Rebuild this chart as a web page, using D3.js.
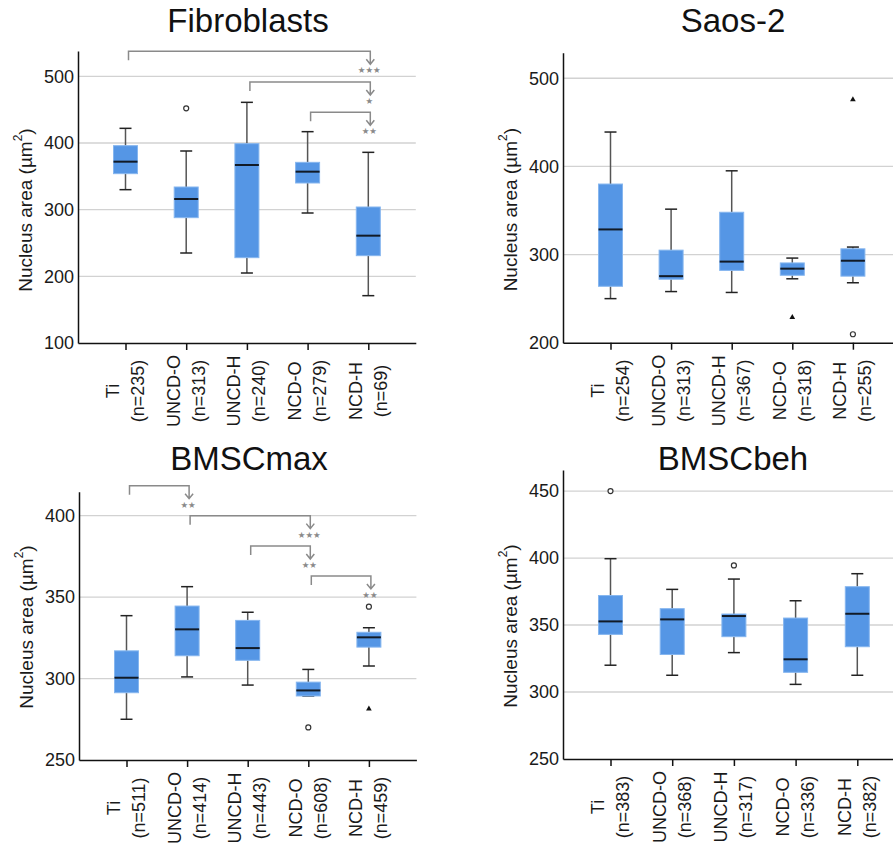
<!DOCTYPE html>
<html>
<head>
<meta charset="utf-8">
<script src="https://cdn.jsdelivr.net/npm/d3@7"></script>
<style>
  body { margin: 0; background: #fff; }
  text { font-family: "Liberation Sans", Arial, sans-serif; }
</style>
</head>
<body>
<div id="chart"></div>
<script>
var groups = ["Ti", "UNCD-O", "UNCD-H", "NCD-O", "NCD-H"];

// sample sizes per group
var fibN = [235, 313, 240, 279, 69];
var saosN = [254, 313, 367, 318, 255];
var maxN = [511, 414, 443, 608, 459];
var behN = [383, 368, 317, 336, 382];

// [whisker low, q1, median, q3, whisker high]
var fibBoxes = [[330, 354, 372, 396, 422], [235, 288, 316, 334, 388], [205, 228, 367, 399, 461], [295, 340, 357, 371, 417], [171, 231, 261, 304, 386]];
var saosBoxes = [[250, 264, 328.5, 380, 439], [258, 272, 275.5, 305, 351.5], [257, 282, 292, 348, 395], [272.5, 276.5, 284, 290.5, 296], [268, 275.5, 293, 306.5, 308.5]];
var maxBoxes = [[275, 291.3, 300.5, 317, 338.6], [301, 314, 330.2, 344.5, 356.4], [296, 311.2, 318.7, 335.7, 340.7], [289.3, 289.3, 292.7, 297.8, 305.6], [307.7, 319.3, 325.3, 328.4, 331.2]];
var behBoxes = [[320, 343, 352.7, 372, 399.5], [312.5, 328, 354.2, 362.2, 376.6], [329.4, 341.3, 356.7, 358.2, 384.3], [305.7, 314.7, 324.4, 355.2, 368.1], [312.5, 333.8, 358.4, 378.6, 388.3]];

// outliers: group, value, "o" = outlier circle, "x" = extreme triangle
var fibOut = [["UNCD-O", 452, "o"]];
var saosOut = [["NCD-O", 228.7, "x"], ["NCD-H", 475.8, "x"], ["NCD-H", 209.6, "o"]];
var maxOut = [["NCD-O", 270, "o"], ["NCD-H", 344.1, "o"], ["NCD-H", 281.4, "x"]];
var behOut = [["Ti", 450, "o"], ["UNCD-H", 394.5, "o"]];

// significance brackets: from, to, stars, bracket level (data units)
var fibSig = [["Ti", "NCD-H", 3, 537.5], ["UNCD-H", "NCD-H", 1, 491.6], ["NCD-O", "NCD-H", 2, 446]];
var maxSig = [["Ti", "UNCD-O", 2, 418.4], ["UNCD-O", "NCD-O", 3, 400], ["UNCD-H", "NCD-O", 2, 381.4], ["NCD-O", "NCD-H", 2, 363]];

var fibTicks = [100, 200, 300, 400, 500];
var saosTicks = [200, 300, 400, 500];
var maxTicks = [250, 300, 350, 400];
var behTicks = [250, 300, 350, 400, 450];

var panels = [
  {title: "Fibroblasts", n: fibN, boxes: fibBoxes, out: fibOut, sig: fibSig, ticks: fibTicks, domain: [100, 538], left: 78, top: 51, bottom: 343, step: 60.7, titleY: 32},
  {title: "Saos-2", n: saosN, boxes: saosBoxes, out: saosOut, sig: [], ticks: saosTicks, domain: [200, 529], left: 563, top: 52.7, bottom: 342.7, step: 60.6, titleY: 32},
  {title: "BMSCmax", n: maxN, boxes: maxBoxes, out: maxOut, sig: maxSig, ticks: maxTicks, domain: [250, 414.7], left: 79, top: 491.7, bottom: 760, step: 60.6, titleY: 470},
  {title: "BMSCbeh", n: behN, boxes: behBoxes, out: behOut, sig: [], ticks: behTicks, domain: [250, 465.7], left: 563, top: 470, bottom: 759, step: 61.7, titleY: 470}
];

var svg = d3.select("#chart").append("svg")
    .attr("width", 893)
    .attr("height", 847);

var boxW = 24, capW = 12, grey = "#8a8a8a";

panels.forEach(function(p) {
  var right = p.left + 4 * p.step + 95;
  var x = d3.scalePoint().domain(groups).range([p.left, right]).padding(47.5 / p.step);
  var y = d3.scaleLinear().domain(p.domain).range([p.bottom, p.top]);
  var g = svg.append("g");

  // grid lines
  g.selectAll(".grid")
      .data(p.ticks.slice(1))
      .enter().append("line")
      .attr("x1", p.left).attr("x2", right)
      .attr("y1", function(d) { return y(d); })
      .attr("y2", function(d) { return y(d); })
      .attr("stroke", "#d2d2d2")
      .attr("stroke-width", 1.3);

  // significance brackets
  var sig = g.selectAll(".sig")
      .data(p.sig)
      .enter().append("g");

  sig.append("path")
      .attr("fill", "none")
      .attr("stroke", grey)
      .attr("stroke-width", 1.5)
      .attr("d", function(d) {
        var x1 = x(d[0]) + 3, x2 = x(d[1]) + 2, y0 = y(d[3]);
        return "M" + x1 + "," + (y0 + 9) + "V" + y0 + "H" + x2 + "V" + (y0 + 13) +
          "M" + (x2 - 4) + "," + (y0 + 8) + "L" + x2 + "," + (y0 + 13) + "L" + (x2 + 4) + "," + (y0 + 8);
      });

  sig.append("text")
      .attr("x", function(d) { return x(d[1]) + 1; })
      .attr("y", function(d) { return y(d[3]) + 19; })
      .attr("text-anchor", "middle")
      .attr("dominant-baseline", "central")
      .attr("fill", grey)
      .style("font-family", "DejaVu Sans")
      .style("font-size", "8.5px")
      .text(function(d) { return "★".repeat(d[2]); });

  // boxes
  var box = g.selectAll(".box")
      .data(p.boxes)
      .enter().append("g")
      .attr("transform", function(d, i) { return "translate(" + x(groups[i]) + ",0)"; });

  box.append("line")
      .attr("y1", function(d) { return y(d[4]); })
      .attr("y2", function(d) { return y(d[3]); })
      .attr("stroke", "#555").attr("stroke-width", 1.5);
  box.append("line")
      .attr("y1", function(d) { return y(d[1]); })
      .attr("y2", function(d) { return y(d[0]); })
      .attr("stroke", "#555").attr("stroke-width", 1.5);
  box.append("line")
      .attr("x1", -capW / 2).attr("x2", capW / 2)
      .attr("y1", function(d) { return y(d[4]); })
      .attr("y2", function(d) { return y(d[4]); })
      .attr("stroke", "#222").attr("stroke-width", 1.5);
  box.append("line")
      .attr("x1", -capW / 2).attr("x2", capW / 2)
      .attr("y1", function(d) { return y(d[0]); })
      .attr("y2", function(d) { return y(d[0]); })
      .attr("stroke", "#222").attr("stroke-width", 1.5);

  box.append("rect")
      .attr("x", -boxW / 2)
      .attr("width", boxW)
      .attr("y", function(d) { return y(d[3]); })
      .attr("height", function(d) { return y(d[1]) - y(d[3]); })
      .attr("fill", "#5596e5")
      .attr("stroke", "#86b6ef")
      .attr("stroke-width", 1);

  box.append("line")
      .attr("x1", -boxW / 2).attr("x2", boxW / 2)
      .attr("y1", function(d) { return y(d[2]); })
      .attr("y2", function(d) { return y(d[2]); })
      .attr("stroke", "#111a26").attr("stroke-width", 2);

  // outliers
  g.selectAll(".out")
      .data(p.out.filter(function(d) { return d[2] === "o"; }))
      .enter().append("circle")
      .attr("cx", function(d) { return x(d[0]); })
      .attr("cy", function(d) { return y(d[1]); })
      .attr("r", 2.5)
      .attr("fill", "#fff")
      .attr("stroke", "#333")
      .attr("stroke-width", 1.2);

  g.selectAll(".ext")
      .data(p.out.filter(function(d) { return d[2] === "x"; }))
      .enter().append("path")
      .attr("d", d3.symbol(d3.symbolTriangle).size(14))
      .attr("transform", function(d) { return "translate(" + x(d[0]) + "," + y(d[1]) + ")"; })
      .attr("fill", "#111");

  // axes
  var ya = g.append("g")
      .attr("transform", "translate(" + p.left + ",0)")
      .call(d3.axisLeft(y).tickValues(p.ticks).tickSize(0).tickSizeOuter(0).tickPadding(4));
  ya.select(".domain").attr("stroke", "#111").attr("stroke-width", 1.5);
  ya.selectAll("text")
      .style("font-family", "Liberation Sans, Arial, sans-serif")
      .style("font-size", "18px")
      .attr("fill", "#1a1a1a");

  var xa = g.append("g")
      .attr("transform", "translate(0," + p.bottom + ")")
      .call(d3.axisBottom(x).tickSize(7).tickSizeOuter(0).tickFormat(""));
  xa.select(".domain").attr("stroke", "#111").attr("stroke-width", 1.5);
  xa.selectAll(".tick line").attr("stroke", "#111").attr("stroke-width", 1.5);

  // category labels, rotated
  var lab = g.selectAll(".lab")
      .data(groups)
      .enter().append("g")
      .attr("transform", function(d) { return "translate(" + x(d) + "," + (p.bottom + 48) + ") rotate(-90)"; });
  lab.append("text")
      .attr("y", -12.5)
      .attr("text-anchor", "middle")
      .attr("dominant-baseline", "central")
      .style("font-size", "18px")
      .attr("fill", "#1a1a1a")
      .text(function(d) { return d; });
  lab.append("text")
      .attr("y", 12.5)
      .attr("text-anchor", "middle")
      .attr("dominant-baseline", "central")
      .style("font-size", "18px")
      .attr("fill", "#1a1a1a")
      .text(function(d, i) { return "(n=" + p.n[i] + ")"; });

  // y label
  var yl = g.append("text")
      .attr("transform", "translate(" + (p.left - 53) + "," + (p.bottom - 133) + ") rotate(-90)")
      .attr("text-anchor", "middle")
      .attr("dominant-baseline", "central")
      .style("font-size", "19px")
      .attr("fill", "#1a1a1a");
  yl.append("tspan").text("Nucleus area (µm");
  yl.append("tspan").attr("baseline-shift", "super").style("font-size", "12px").text("2");
  yl.append("tspan").text(")");

  // title
  g.append("text")
      .attr("x", p.left + 170)
      .attr("y", p.titleY)
      .attr("text-anchor", "middle")
      .style("font-size", "33px")
      .attr("fill", "#111")
      .text(p.title);
});
</script>
</body>
</html>
